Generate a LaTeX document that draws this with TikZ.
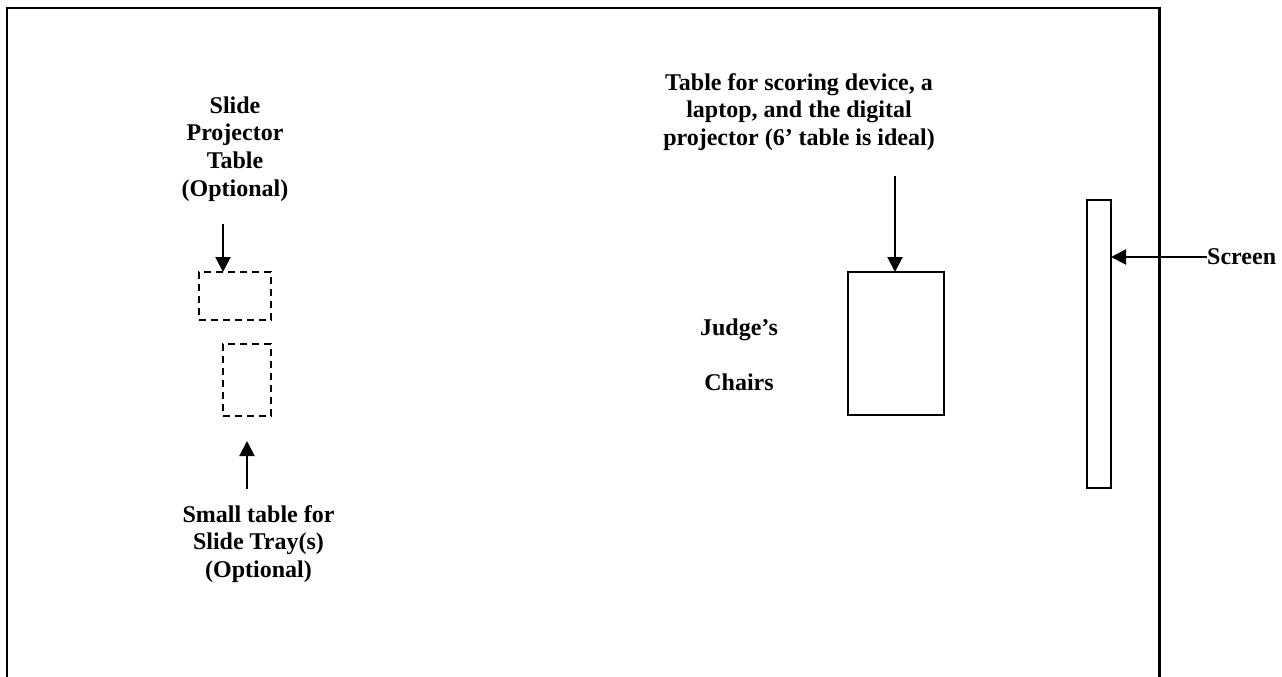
\documentclass[tikz,border=0pt]{standalone}
\usepackage{fontspec}
\setmainfont{Liberation Serif}
\usetikzlibrary{arrows.meta}
\tikzset{
 lbl/.style={align=center,font=\fontsize{24}{27.7}\selectfont\bfseries,inner sep=0pt},
 solidbox/.style={draw,line width=2pt,inner sep=0pt,outer sep=0pt,anchor=north west},
 dashbox/.style={draw,line width=2pt,dash pattern=on 7pt off 5pt,inner sep=0pt,outer sep=0pt,anchor=north west},
 arr/.style={line width=2pt,-{Triangle[length=15pt,width=15pt]}}
}
\begin{document}
\begin{tikzpicture}[x=1pt,y=-1pt]
\useasboundingbox (0,0) rectangle (1282,677);
\draw[line width=2.2pt] (7,677) -- (7,8) -- (1159.5,8) -- (1159.5,677);
\node[dashbox,minimum width=72pt,minimum height=48pt] (proj) at (199,272) {};
\node[dashbox,minimum width=48pt,minimum height=72pt] (tray) at (223,344) {};
\node[solidbox,minimum width=96pt,minimum height=143pt] (table) at (847.5,272) {};
\node[solidbox,minimum width=24pt,minimum height=288pt] (screen) at (1087,200) {};
\node[lbl] (t1) at (235,149) {Slide\\Projector\\Table\\(Optional)};
\node[lbl] (t2) at (258.5,544) {Small table for\\Slide Tray(s)\\(Optional)};
\node[lbl] (t3) at (799,112) {Table for scoring device, a\\laptop, and the digital\\projector (6’ table is ideal)};
\node[lbl,font=\fontsize{24}{55}\selectfont\bfseries] (t4) at (739,355) {Judge’s\\Chairs};
\node[lbl,anchor=west] (t5) at (1207,257) {Screen};
\coordinate (a1) at (223,224);
\coordinate (a2) at (247,489);
\coordinate (a2t) at (247,441);
\coordinate (a3) at (895,176);
\draw[arr] (a1) -- (a1 |- proj.north);
\draw[arr] (a2) -- (a2t);
\draw[arr] (a3) -- (a3 |- table.north);
\draw[arr] (t5.west) -- (t5.west -| screen.east);
\end{tikzpicture}
\end{document}
